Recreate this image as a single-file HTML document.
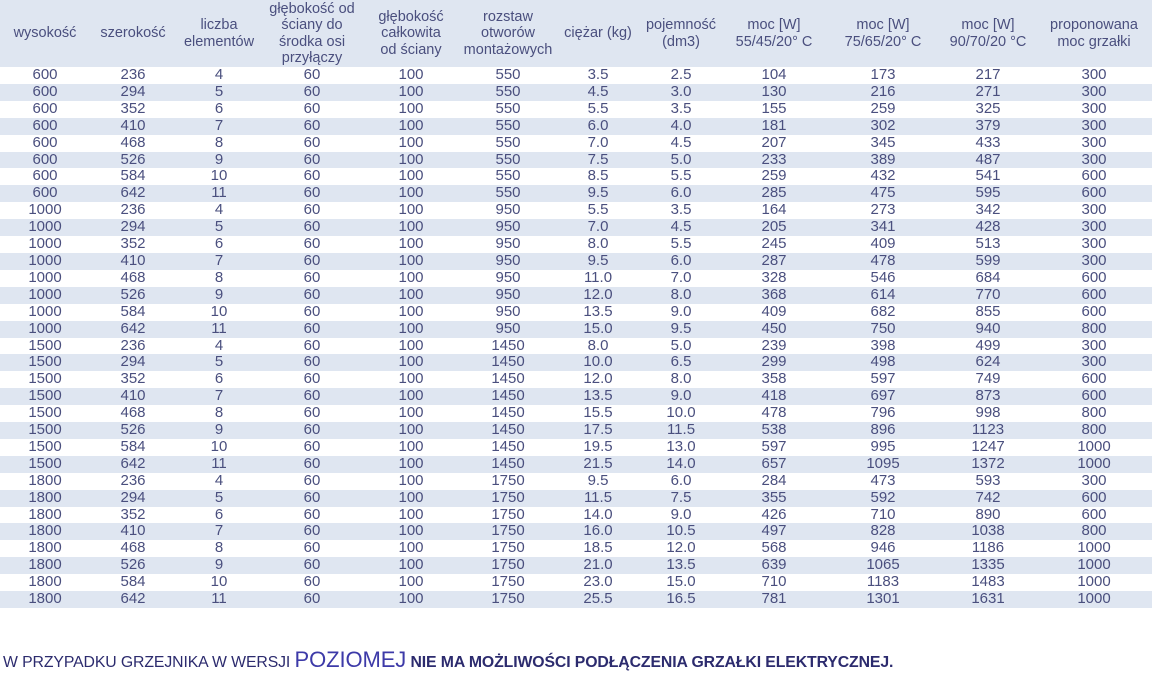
<!DOCTYPE html>
<html><head><meta charset="utf-8"><style>
body{margin:0;width:1156px;height:693px;background:#fff;overflow:hidden;font-family:"Liberation Sans",sans-serif;}
table{position:absolute;left:0;top:0;border-collapse:collapse;table-layout:fixed;width:1152px;color:#4a4f7e;}
th{background:#dfe6f1;height:67px;font-weight:normal;font-size:14.5px;line-height:16.5px;padding:0;vertical-align:middle;color:#4a4f7e;}
td{height:16.9px;padding:0;text-align:center;font-size:15px;line-height:16.9px;}
tbody tr:nth-child(even) td{background:#dfe6f1;}
.note{position:absolute;left:3px;top:647px;font-size:15.8px;font-weight:bold;color:#2c2b6e;white-space:nowrap;letter-spacing:-0.1px;}
.note .n{font-weight:normal;}
.note .b{font-size:22px;font-weight:normal;color:#3d3aa8;}
</style></head><body>
<table>
<colgroup><col style="width:90px"><col style="width:86px"><col style="width:86px"><col style="width:100px"><col style="width:98px"><col style="width:96px"><col style="width:84px"><col style="width:82px"><col style="width:104px"><col style="width:114px"><col style="width:96px"><col style="width:116px"></colgroup>
<thead><tr><th>wysokość</th><th>szerokość</th><th>liczba<br>elementów</th><th>głębokość od<br>ściany do<br>środka osi<br>przyłączy</th><th>głębokość<br>całkowita<br>od ściany</th><th>rozstaw<br>otworów<br>montażowych</th><th>ciężar (kg)</th><th>pojemność<br>(dm3)</th><th>moc [W]<br>55/45/20° C</th><th>moc [W]<br>75/65/20° C</th><th>moc [W]<br>90/70/20 °C</th><th>proponowana<br>moc grzałki</th></tr></thead>
<tbody>
<tr><td>600</td><td>236</td><td>4</td><td>60</td><td>100</td><td>550</td><td>3.5</td><td>2.5</td><td>104</td><td>173</td><td>217</td><td>300</td></tr>
<tr><td>600</td><td>294</td><td>5</td><td>60</td><td>100</td><td>550</td><td>4.5</td><td>3.0</td><td>130</td><td>216</td><td>271</td><td>300</td></tr>
<tr><td>600</td><td>352</td><td>6</td><td>60</td><td>100</td><td>550</td><td>5.5</td><td>3.5</td><td>155</td><td>259</td><td>325</td><td>300</td></tr>
<tr><td>600</td><td>410</td><td>7</td><td>60</td><td>100</td><td>550</td><td>6.0</td><td>4.0</td><td>181</td><td>302</td><td>379</td><td>300</td></tr>
<tr><td>600</td><td>468</td><td>8</td><td>60</td><td>100</td><td>550</td><td>7.0</td><td>4.5</td><td>207</td><td>345</td><td>433</td><td>300</td></tr>
<tr><td>600</td><td>526</td><td>9</td><td>60</td><td>100</td><td>550</td><td>7.5</td><td>5.0</td><td>233</td><td>389</td><td>487</td><td>300</td></tr>
<tr><td>600</td><td>584</td><td>10</td><td>60</td><td>100</td><td>550</td><td>8.5</td><td>5.5</td><td>259</td><td>432</td><td>541</td><td>600</td></tr>
<tr><td>600</td><td>642</td><td>11</td><td>60</td><td>100</td><td>550</td><td>9.5</td><td>6.0</td><td>285</td><td>475</td><td>595</td><td>600</td></tr>
<tr><td>1000</td><td>236</td><td>4</td><td>60</td><td>100</td><td>950</td><td>5.5</td><td>3.5</td><td>164</td><td>273</td><td>342</td><td>300</td></tr>
<tr><td>1000</td><td>294</td><td>5</td><td>60</td><td>100</td><td>950</td><td>7.0</td><td>4.5</td><td>205</td><td>341</td><td>428</td><td>300</td></tr>
<tr><td>1000</td><td>352</td><td>6</td><td>60</td><td>100</td><td>950</td><td>8.0</td><td>5.5</td><td>245</td><td>409</td><td>513</td><td>300</td></tr>
<tr><td>1000</td><td>410</td><td>7</td><td>60</td><td>100</td><td>950</td><td>9.5</td><td>6.0</td><td>287</td><td>478</td><td>599</td><td>300</td></tr>
<tr><td>1000</td><td>468</td><td>8</td><td>60</td><td>100</td><td>950</td><td>11.0</td><td>7.0</td><td>328</td><td>546</td><td>684</td><td>600</td></tr>
<tr><td>1000</td><td>526</td><td>9</td><td>60</td><td>100</td><td>950</td><td>12.0</td><td>8.0</td><td>368</td><td>614</td><td>770</td><td>600</td></tr>
<tr><td>1000</td><td>584</td><td>10</td><td>60</td><td>100</td><td>950</td><td>13.5</td><td>9.0</td><td>409</td><td>682</td><td>855</td><td>600</td></tr>
<tr><td>1000</td><td>642</td><td>11</td><td>60</td><td>100</td><td>950</td><td>15.0</td><td>9.5</td><td>450</td><td>750</td><td>940</td><td>800</td></tr>
<tr><td>1500</td><td>236</td><td>4</td><td>60</td><td>100</td><td>1450</td><td>8.0</td><td>5.0</td><td>239</td><td>398</td><td>499</td><td>300</td></tr>
<tr><td>1500</td><td>294</td><td>5</td><td>60</td><td>100</td><td>1450</td><td>10.0</td><td>6.5</td><td>299</td><td>498</td><td>624</td><td>300</td></tr>
<tr><td>1500</td><td>352</td><td>6</td><td>60</td><td>100</td><td>1450</td><td>12.0</td><td>8.0</td><td>358</td><td>597</td><td>749</td><td>600</td></tr>
<tr><td>1500</td><td>410</td><td>7</td><td>60</td><td>100</td><td>1450</td><td>13.5</td><td>9.0</td><td>418</td><td>697</td><td>873</td><td>600</td></tr>
<tr><td>1500</td><td>468</td><td>8</td><td>60</td><td>100</td><td>1450</td><td>15.5</td><td>10.0</td><td>478</td><td>796</td><td>998</td><td>800</td></tr>
<tr><td>1500</td><td>526</td><td>9</td><td>60</td><td>100</td><td>1450</td><td>17.5</td><td>11.5</td><td>538</td><td>896</td><td>1123</td><td>800</td></tr>
<tr><td>1500</td><td>584</td><td>10</td><td>60</td><td>100</td><td>1450</td><td>19.5</td><td>13.0</td><td>597</td><td>995</td><td>1247</td><td>1000</td></tr>
<tr><td>1500</td><td>642</td><td>11</td><td>60</td><td>100</td><td>1450</td><td>21.5</td><td>14.0</td><td>657</td><td>1095</td><td>1372</td><td>1000</td></tr>
<tr><td>1800</td><td>236</td><td>4</td><td>60</td><td>100</td><td>1750</td><td>9.5</td><td>6.0</td><td>284</td><td>473</td><td>593</td><td>300</td></tr>
<tr><td>1800</td><td>294</td><td>5</td><td>60</td><td>100</td><td>1750</td><td>11.5</td><td>7.5</td><td>355</td><td>592</td><td>742</td><td>600</td></tr>
<tr><td>1800</td><td>352</td><td>6</td><td>60</td><td>100</td><td>1750</td><td>14.0</td><td>9.0</td><td>426</td><td>710</td><td>890</td><td>600</td></tr>
<tr><td>1800</td><td>410</td><td>7</td><td>60</td><td>100</td><td>1750</td><td>16.0</td><td>10.5</td><td>497</td><td>828</td><td>1038</td><td>800</td></tr>
<tr><td>1800</td><td>468</td><td>8</td><td>60</td><td>100</td><td>1750</td><td>18.5</td><td>12.0</td><td>568</td><td>946</td><td>1186</td><td>1000</td></tr>
<tr><td>1800</td><td>526</td><td>9</td><td>60</td><td>100</td><td>1750</td><td>21.0</td><td>13.5</td><td>639</td><td>1065</td><td>1335</td><td>1000</td></tr>
<tr><td>1800</td><td>584</td><td>10</td><td>60</td><td>100</td><td>1750</td><td>23.0</td><td>15.0</td><td>710</td><td>1183</td><td>1483</td><td>1000</td></tr>
<tr><td>1800</td><td>642</td><td>11</td><td>60</td><td>100</td><td>1750</td><td>25.5</td><td>16.5</td><td>781</td><td>1301</td><td>1631</td><td>1000</td></tr>
</tbody></table>
<div class="note"><span class="n">W PRZYPADKU GRZEJNIKA W WERSJI </span><span class="b">POZIOMEJ</span> NIE MA MOŻLIWOŚCI PODŁĄCZENIA GRZAŁKI ELEKTRYCZNEJ.</div>
</body></html>
